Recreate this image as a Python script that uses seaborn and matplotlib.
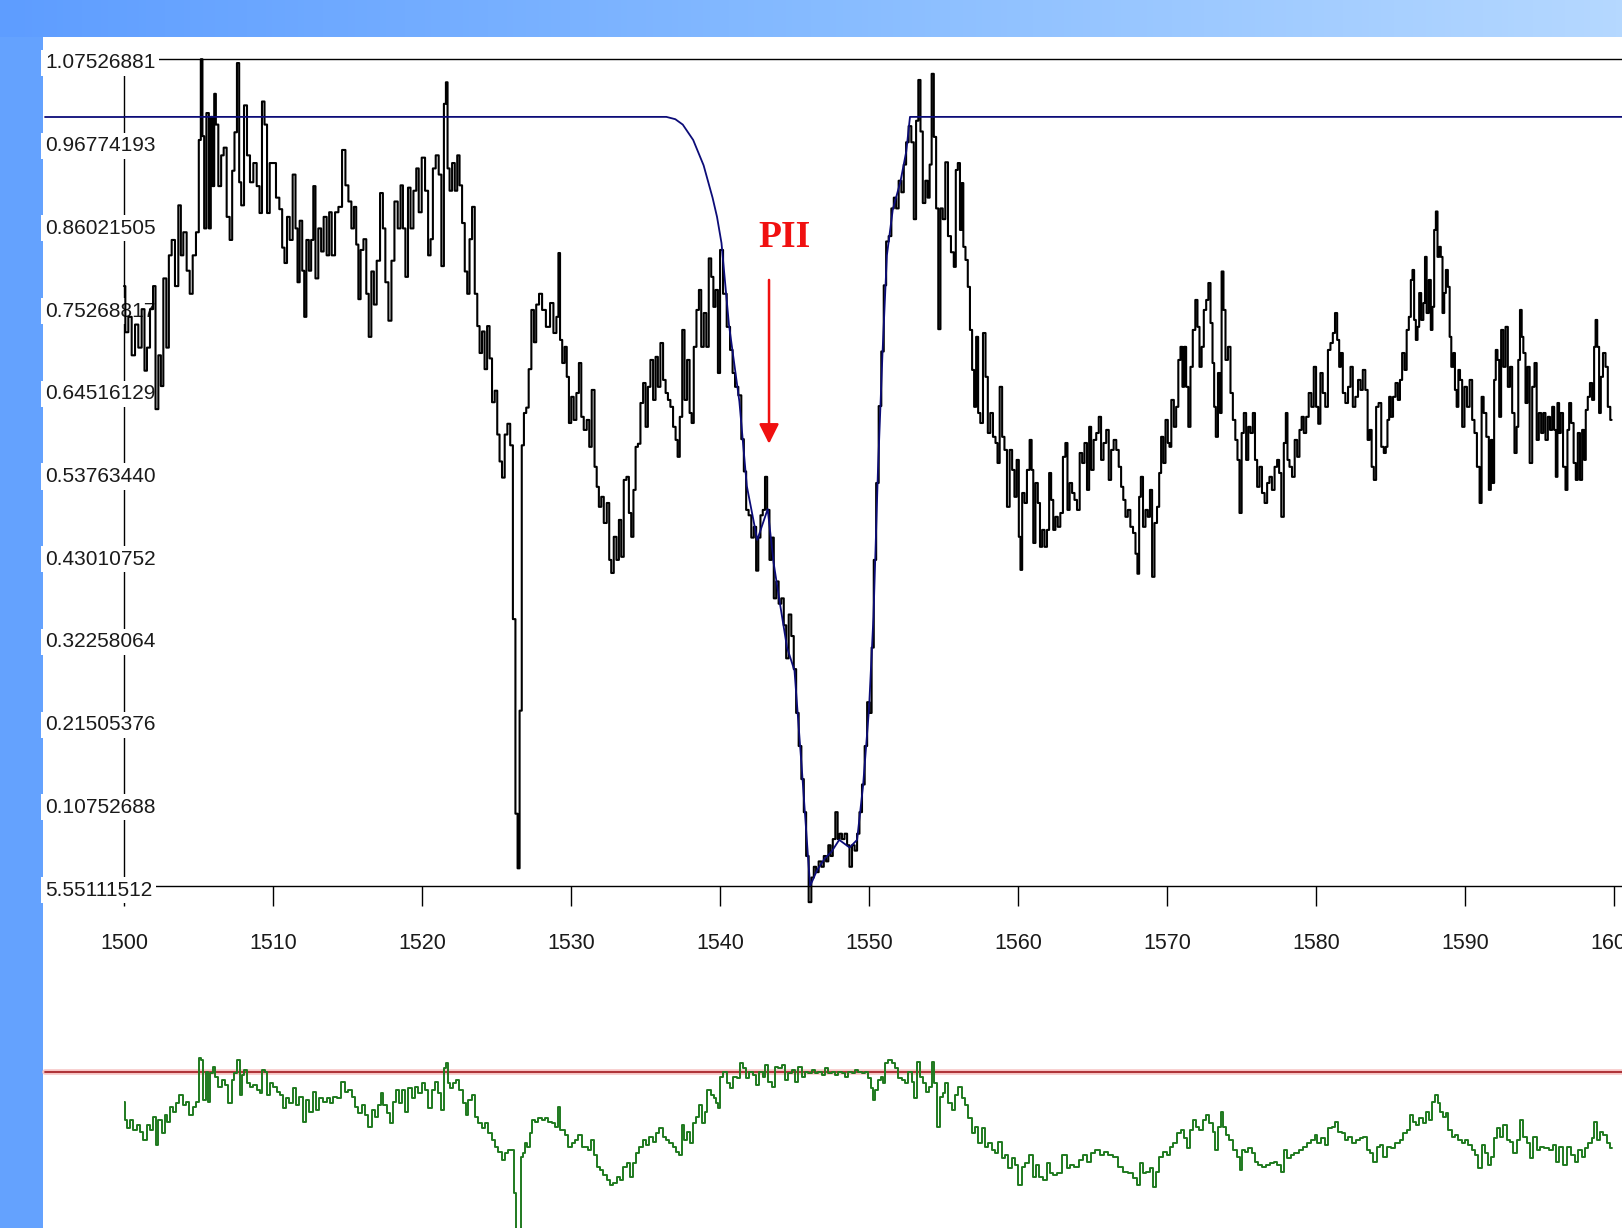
import numpy as np
import pandas as pd
import matplotlib
matplotlib.use("Agg")
import matplotlib.pyplot as plt
from matplotlib.patches import Rectangle
from matplotlib.colors import LinearSegmentedColormap
from matplotlib.transforms import ScaledTranslation
import seaborn as sns

# ---------------- data (wavelength, normalised flux) ----------------
flux_1500_1514 = [(1500.0,0.78),(1500.18,0.72),(1500.40,0.74),(1500.63,0.69),(1500.85,0.73),(1501.07,0.70),(1501.30,0.75),(1501.45,0.67),(1501.63,0.70),(1501.86,0.75),(1502.04,0.78),(1502.19,0.62),(1502.42,0.69),(1502.53,0.65),(1502.75,0.79),(1502.93,0.70),(1503.09,0.82),(1503.31,0.84),(1503.53,0.78),(1503.76,0.885),(1503.87,0.82),(1504.09,0.85),(1504.32,0.80),(1504.50,0.77),(1504.72,0.82),(1504.94,0.85),(1505.10,0.97),(1505.21,1.075),(1505.32,0.975),(1505.44,0.855),(1505.62,1.005),(1505.77,0.855),(1505.88,1.0),(1506.0,0.91),(1506.11,1.03),(1506.22,0.99),(1506.44,0.91),(1506.60,0.95),(1506.78,0.96),(1507.0,0.87),(1507.18,0.84),(1507.34,0.93),(1507.49,0.98),(1507.67,1.07),(1507.79,0.915),(1507.94,0.885),(1508.17,1.015),(1508.34,0.95),(1508.57,0.915),(1508.79,0.94),(1509.02,0.91),(1509.17,0.875),(1509.35,1.02),(1509.51,0.99),(1509.69,0.875),(1509.87,0.94),(1510.09,0.94),(1510.31,0.895),(1510.54,0.88),(1510.69,0.83),(1510.85,0.81),(1511.03,0.87),(1511.21,0.84),(1511.43,0.925),(1511.59,0.855),(1511.70,0.785),(1511.88,0.865),(1512.04,0.80),(1512.15,0.74),(1512.33,0.84),(1512.48,0.80),(1512.64,0.84),(1512.77,0.91),(1512.93,0.79),(1513.15,0.855),(1513.31,0.825),(1513.49,0.87),(1513.71,0.82)]
flux_1514_1528 = [(1513.83,0.876),(1514.05,0.820),(1514.28,0.876),(1514.5,0.883),(1514.77,0.957),(1514.95,0.911),(1515.17,0.890),(1515.35,0.855),(1515.51,0.883),(1515.66,0.834),(1515.8,0.763),(1515.96,0.827),(1516.18,0.841),(1516.34,0.770),(1516.51,0.714),(1516.69,0.799),(1516.85,0.756),(1517.07,0.813),(1517.3,0.901),(1517.45,0.855),(1517.63,0.785),(1517.86,0.735),(1518.04,0.813),(1518.26,0.890),(1518.48,0.855),(1518.64,0.911),(1518.8,0.855),(1518.97,0.792),(1519.15,0.908),(1519.31,0.855),(1519.54,0.904),(1519.69,0.933),(1519.87,0.876),(1520.09,0.947),(1520.32,0.904),(1520.5,0.820),(1520.65,0.841),(1520.81,0.933),(1521.03,0.950),(1521.21,0.925),(1521.39,0.806),(1521.55,1.017),(1521.66,1.045),(1521.77,0.933),(1521.93,0.904),(1522.11,0.940),(1522.29,0.904),(1522.44,0.950),(1522.6,0.911),(1522.78,0.862),(1522.96,0.799),(1523.11,0.770),(1523.27,0.841),(1523.45,0.883),(1523.63,0.770),(1523.79,0.728),(1523.94,0.693),(1524.12,0.721),(1524.28,0.672),(1524.46,0.728),(1524.61,0.686),(1524.79,0.629),(1524.97,0.644),(1525.13,0.587),(1525.28,0.552),(1525.46,0.531),(1525.64,0.587),(1525.82,0.601),(1526.02,0.573),(1526.18,0.347),(1526.36,0.094),(1526.47,0.023),(1526.63,0.228),(1526.76,0.573),(1526.92,0.615),(1527.07,0.622),(1527.25,0.672),(1527.43,0.749),(1527.59,0.707),(1527.74,0.756),(1527.97,0.770),(1528.15,0.749)]
flux_1528_1541 = [(1528.48,0.727),(1528.71,0.758),(1528.93,0.719),(1529.11,0.740),(1529.2,0.823),(1529.33,0.710),(1529.49,0.680),(1529.65,0.701),(1529.78,0.662),(1529.94,0.602),(1530.09,0.636),(1530.27,0.606),(1530.45,0.641),(1530.61,0.680),(1530.77,0.610),(1530.94,0.593),(1531.17,0.606),(1531.28,0.571),(1531.5,0.645),(1531.66,0.545),(1531.79,0.519),(1531.95,0.493),(1532.11,0.506),(1532.29,0.472),(1532.51,0.498),(1532.62,0.424),(1532.78,0.407),(1532.96,0.454),(1533.14,0.424),(1533.29,0.476),(1533.45,0.428),(1533.63,0.528),(1533.81,0.532),(1533.96,0.485),(1534.12,0.454),(1534.26,0.515),(1534.41,0.571),(1534.57,0.575),(1534.75,0.628),(1534.93,0.654),(1535.08,0.597),(1535.24,0.649),(1535.42,0.684),(1535.6,0.632),(1535.75,0.688),(1535.91,0.649),(1536.09,0.706),(1536.27,0.658),(1536.43,0.641),(1536.58,0.632),(1536.76,0.623),(1536.94,0.597),(1537.1,0.580),(1537.21,0.558),(1537.39,0.610),(1537.54,0.723),(1537.7,0.632),(1537.88,0.684),(1538.04,0.615),(1538.15,0.602),(1538.33,0.701),(1538.51,0.749),(1538.66,0.775),(1538.82,0.701),(1539.0,0.745),(1539.16,0.701),(1539.33,0.816),(1539.49,0.792),(1539.62,0.753),(1539.78,0.775),(1539.94,0.667),(1540.07,0.827),(1540.34,0.77),(1540.56,0.727),(1540.79,0.697),(1540.9,0.667),(1541.12,0.649)]
flux_1541_1556 = [(1541.34,0.638),(1541.52,0.581),(1541.68,0.539),(1541.83,0.489),(1542.01,0.482),(1542.19,0.453),(1542.35,0.467),(1542.50,0.410),(1542.64,0.453),(1542.79,0.482),(1542.95,0.489),(1543.09,0.532),(1543.24,0.489),(1543.40,0.424),(1543.53,0.453),(1543.69,0.374),(1543.85,0.396),(1544.02,0.367),(1544.2,0.374),(1544.36,0.339),(1544.52,0.296),(1544.70,0.353),(1544.87,0.325),(1545.03,0.282),(1545.19,0.225),(1545.37,0.182),(1545.55,0.139),(1545.70,0.096),(1545.86,0.039),(1546.04,-0.021),(1546.22,0.011),(1546.37,0.025),(1546.53,0.018),(1546.71,0.032),(1546.89,0.025),(1547.04,0.039),(1547.20,0.032),(1547.34,0.053),(1547.49,0.039),(1547.65,0.061),(1547.83,0.096),(1547.96,0.061),(1548.10,0.068),(1548.27,0.061),(1548.45,0.068),(1548.61,0.053),(1548.77,0.025),(1548.95,0.053),(1549.12,0.046),(1549.28,0.068),(1549.44,0.096),(1549.62,0.132),(1549.80,0.182),(1549.95,0.239),(1550.11,0.225),(1550.24,0.310),(1550.40,0.424),(1550.56,0.524),(1550.74,0.624),(1550.91,0.695),(1551.07,0.781),(1551.23,0.838),(1551.41,0.845),(1551.59,0.881),(1551.74,0.895),(1551.9,0.881),(1552.08,0.917),(1552.26,0.902),(1552.41,0.938),(1552.57,0.967),(1552.75,0.988),(1552.93,0.967),(1553.08,0.867),(1553.24,0.995),(1553.38,1.048),(1553.53,0.981),(1553.69,0.888),(1553.87,0.917),(1554.0,0.895),(1554.14,0.938),(1554.27,1.056),(1554.43,0.974),(1554.58,0.881),(1554.72,0.724),(1554.87,0.881),(1555.03,0.867),(1555.21,0.941),(1555.39,0.845),(1555.61,0.824)]
flux_1556_1570 = [(1555.77,0.805),(1555.88,0.931),(1556.04,0.940),(1556.17,0.853),(1556.26,0.914),(1556.4,0.831),(1556.55,0.814),(1556.71,0.779),(1556.84,0.723),(1557.0,0.671),(1557.11,0.623),(1557.27,0.714),(1557.38,0.615),(1557.56,0.602),(1557.74,0.719),(1557.90,0.662),(1558.05,0.589),(1558.23,0.615),(1558.41,0.584),(1558.57,0.576),(1558.68,0.550),(1558.86,0.649),(1559.01,0.584),(1559.17,0.567),(1559.35,0.493),(1559.53,0.567),(1559.68,0.541),(1559.84,0.506),(1559.98,0.554),(1560.13,0.454),(1560.2,0.411),(1560.36,0.511),(1560.51,0.498),(1560.69,0.541),(1560.87,0.580),(1560.96,0.541),(1561.09,0.446),(1561.25,0.524),(1561.41,0.498),(1561.54,0.441),(1561.7,0.463),(1561.86,0.441),(1562.03,0.463),(1562.15,0.537),(1562.3,0.502),(1562.43,0.463),(1562.59,0.480),(1562.75,0.467),(1562.93,0.485),(1563.1,0.558),(1563.26,0.576),(1563.38,0.489),(1563.55,0.524),(1563.71,0.511),(1563.87,0.502),(1564.05,0.489),(1564.23,0.563),(1564.38,0.550),(1564.54,0.576),(1564.72,0.515),(1564.83,0.597),(1564.99,0.541),(1565.16,0.580),(1565.34,0.589),(1565.5,0.610),(1565.65,0.554),(1565.83,0.576),(1566.01,0.593),(1566.17,0.528),(1566.33,0.567),(1566.51,0.580),(1566.68,0.567),(1566.84,0.545),(1567.0,0.519),(1567.13,0.502),(1567.29,0.480),(1567.45,0.489),(1567.63,0.467),(1567.81,0.459),(1567.96,0.432),(1568.07,0.406),(1568.19,0.506),(1568.30,0.532),(1568.48,0.467),(1568.63,0.489),(1568.79,0.480),(1568.92,0.515),(1569.08,0.402),(1569.24,0.472),(1569.42,0.493),(1569.53,0.537),(1569.68,0.584),(1569.82,0.550),(1569.98,0.606),(1570.13,0.576)]
flux_1570_1585 = [(1570.2,0.571),(1570.38,0.632),(1570.54,0.597),(1570.69,0.623),(1570.83,0.684),(1570.98,0.701),(1571.09,0.649),(1571.21,0.701),(1571.36,0.649),(1571.5,0.597),(1571.65,0.675),(1571.81,0.723),(1571.99,0.762),(1572.1,0.727),(1572.26,0.675),(1572.39,0.701),(1572.55,0.749),(1572.71,0.762),(1572.84,0.784),(1573.0,0.732),(1573.11,0.680),(1573.22,0.623),(1573.33,0.584),(1573.51,0.667),(1573.6,0.615),(1573.73,0.799),(1573.85,0.749),(1574.0,0.684),(1574.18,0.701),(1574.34,0.641),(1574.5,0.606),(1574.67,0.580),(1574.79,0.554),(1574.94,0.485),(1575.08,0.589),(1575.23,0.615),(1575.39,0.554),(1575.52,0.597),(1575.68,0.589),(1575.84,0.615),(1575.97,0.554),(1576.13,0.519),(1576.29,0.545),(1576.46,0.511),(1576.64,0.498),(1576.8,0.524),(1576.95,0.532),(1577.13,0.515),(1577.31,0.545),(1577.47,0.554),(1577.58,0.537),(1577.76,0.480),(1577.92,0.576),(1578.03,0.615),(1578.14,0.554),(1578.3,0.545),(1578.48,0.532),(1578.66,0.580),(1578.81,0.558),(1578.97,0.593),(1579.1,0.610),(1579.26,0.589),(1579.42,0.610),(1579.6,0.641),(1579.77,0.623),(1579.93,0.675),(1580.08,0.623),(1580.22,0.601),(1580.37,0.667),(1580.53,0.641),(1580.71,0.623),(1580.89,0.697),(1581.05,0.706),(1581.21,0.719),(1581.34,0.745),(1581.5,0.710),(1581.61,0.675),(1581.72,0.693),(1581.88,0.641),(1582.06,0.628),(1582.24,0.649),(1582.39,0.675),(1582.55,0.623),(1582.73,0.636),(1582.91,0.658),(1583.06,0.645),(1583.22,0.671),(1583.4,0.645),(1583.53,0.580),(1583.67,0.593),(1583.8,0.545),(1583.96,0.528),(1584.11,0.623),(1584.29,0.628),(1584.47,0.571)]
flux_1585_1600 = [(1584.63,0.563),(1584.74,0.571),(1584.85,0.606),(1584.97,0.636),(1585.08,0.610),(1585.26,0.636),(1585.41,0.654),(1585.57,0.632),(1585.7,0.658),(1585.86,0.693),(1586.02,0.671),(1586.15,0.723),(1586.31,0.740),(1586.42,0.788),(1586.53,0.801),(1586.64,0.736),(1586.76,0.710),(1586.87,0.727),(1586.98,0.771),(1587.14,0.736),(1587.27,0.758),(1587.36,0.818),(1587.49,0.745),(1587.65,0.788),(1587.76,0.723),(1587.87,0.753),(1587.99,0.853),(1588.1,0.877),(1588.21,0.818),(1588.32,0.831),(1588.43,0.818),(1588.55,0.745),(1588.66,0.771),(1588.77,0.801),(1588.93,0.779),(1589.01,0.714),(1589.15,0.675),(1589.28,0.693),(1589.37,0.645),(1589.51,0.623),(1589.6,0.671),(1589.73,0.658),(1589.89,0.597),(1590.04,0.649),(1590.22,0.623),(1590.4,0.658),(1590.56,0.606),(1590.71,0.589),(1590.89,0.545),(1591.07,0.498),(1591.16,0.636),(1591.34,0.615),(1591.52,0.584),(1591.68,0.515),(1591.79,0.580),(1591.9,0.524),(1592.01,0.658),(1592.12,0.697),(1592.24,0.684),(1592.35,0.610),(1592.5,0.723),(1592.64,0.675),(1592.8,0.727),(1592.95,0.649),(1593.09,0.675),(1593.24,0.615),(1593.4,0.563),(1593.53,0.597),(1593.62,0.684),(1593.76,0.749),(1593.85,0.714),(1593.98,0.693),(1594.14,0.628),(1594.25,0.675),(1594.43,0.550),(1594.59,0.649),(1594.74,0.680),(1594.88,0.580),(1595.03,0.615),(1595.19,0.589),(1595.32,0.615),(1595.48,0.580),(1595.64,0.610),(1595.77,0.593),(1595.93,0.623),(1596.04,0.593),(1596.15,0.532),(1596.26,0.628),(1596.37,0.589),(1596.49,0.615),(1596.67,0.545),(1596.82,0.515),(1596.93,0.593),(1597.05,0.628),(1597.2,0.602),(1597.38,0.550),(1597.49,0.528),(1597.65,0.589),(1597.78,0.528),(1597.94,0.593),(1598.05,0.554),(1598.16,0.619),(1598.32,0.636),(1598.45,0.654),(1598.61,0.632),(1598.72,0.701),(1598.81,0.736),(1598.94,0.701),(1599.06,0.615),(1599.17,0.662),(1599.35,0.693),(1599.51,0.675),(1599.66,0.623),(1599.84,0.606)]

# fitted continuum / absorption profile (blue curve)
continuum = [(1500.0,1.0),(1536.4,1.0),(1537.0,0.997),(1537.5,0.99),(1538.2,0.97),(1538.9,0.937),(1539.5,0.895),(1539.8,0.87),(1540.1,0.836),(1540.6,0.73),(1541.3,0.63),(1541.8,0.52),(1542.5,0.45),(1543.2,0.49),(1543.6,0.42),(1544.0,0.37),(1544.5,0.31),(1545.0,0.28),(1545.5,0.15),(1545.9,0.04),(1546.05,0.0),(1546.5,0.02),(1547.0,0.035),(1547.5,0.045),(1548.0,0.06),(1548.7,0.05),(1549.2,0.06),(1549.6,0.13),(1550.0,0.23),(1550.3,0.35),(1550.6,0.54),(1550.9,0.69),(1551.2,0.82),(1551.6,0.88),(1552.1,0.915),(1552.5,0.955),(1552.75,1.0),(1600.53,1.0)]

# lower panel: log of flux / continuum
ratio_1500_1533 = [(1500.0,-0.243),(1500.07,-0.394),(1500.29,-0.462),(1500.51,-0.394),(1500.74,-0.476),(1500.96,-0.435),(1501.19,-0.489),(1501.41,-0.558),(1501.63,-0.435),(1501.86,-0.476),(1502.04,-0.366),(1502.19,-0.599),(1502.42,-0.394),(1502.64,-0.503),(1502.8,-0.353),(1502.98,-0.407),(1503.15,-0.284),(1503.38,-0.325),(1503.6,-0.257),(1503.83,-0.189),(1504.05,-0.271),(1504.27,-0.243),(1504.5,-0.353),(1504.72,-0.284),(1504.94,-0.243),(1505.1,0.112),(1505.26,0.098),(1505.39,-0.230),(1505.55,0.002),(1505.7,-0.243),(1505.88,-0.011),(1506.06,0.043),(1506.22,-0.039),(1506.44,-0.120),(1506.67,-0.066),(1506.89,-0.107),(1507.11,-0.257),(1507.34,-0.066),(1507.49,-0.011),(1507.67,0.098),(1507.85,-0.189),(1508.0,-0.025),(1508.17,0.016),(1508.34,-0.093),(1508.57,-0.120),(1508.79,-0.107),(1509.02,-0.148),(1509.19,-0.175),(1509.35,0.016),(1509.51,0.002),(1509.69,-0.189),(1509.91,-0.093),(1510.13,-0.120),(1510.36,-0.161),(1510.58,-0.189),(1510.76,-0.298),(1510.98,-0.216),(1511.21,-0.257),(1511.43,-0.134),(1511.66,-0.271),(1511.88,-0.202),(1512.1,-0.407),(1512.33,-0.230),(1512.55,-0.325),(1512.77,-0.161),(1513.0,-0.312),(1513.22,-0.216),(1513.49,-0.243),(1513.71,-0.216),(1513.94,-0.257),(1514.16,-0.202),(1514.38,-0.216),(1514.72,-0.080),(1514.94,-0.161),(1515.17,-0.148),(1515.39,-0.202),(1515.62,-0.284),(1515.84,-0.339),(1516.06,-0.271),(1516.29,-0.353),(1516.51,-0.448),(1516.74,-0.312),(1516.96,-0.366),(1517.18,-0.271),(1517.3,-0.175),(1517.52,-0.271),(1517.74,-0.339),(1517.92,-0.421),(1518.14,-0.243),(1518.37,-0.148),(1518.59,-0.257),(1518.75,-0.148),(1518.97,-0.325),(1519.2,-0.134),(1519.42,-0.216),(1519.64,-0.120),(1519.87,-0.175),(1520.09,-0.093),(1520.31,-0.148),(1520.54,-0.298),(1520.76,-0.148),(1520.98,-0.080),(1521.21,-0.175),(1521.37,-0.312),(1521.54,0.030),(1521.66,0.071),(1521.81,-0.093),(1521.99,-0.134),(1522.21,-0.093),(1522.39,-0.066),(1522.62,-0.148),(1522.84,-0.257),(1523.0,-0.353),(1523.22,-0.230),(1523.45,-0.189),(1523.67,-0.366),(1523.89,-0.421),(1524.12,-0.462),(1524.34,-0.421),(1524.57,-0.503),(1524.79,-0.558),(1525.01,-0.612),(1525.23,-0.653),(1525.46,-0.722),(1525.68,-0.667),(1525.91,-0.640),(1526.07,-0.640),(1526.24,-0.995),(1526.35,-1.9),(1526.47,-3.0),(1526.57,-1.9),(1526.69,-0.694),(1526.8,-0.667),(1526.96,-0.585),(1527.14,-0.612),(1527.32,-0.503),(1527.48,-0.394),(1527.7,-0.407),(1527.92,-0.380),(1528.15,-0.394),(1528.37,-0.380),(1528.59,-0.407),(1528.81,-0.421),(1529.04,-0.448),(1529.15,-0.284),(1529.33,-0.476),(1529.49,-0.476),(1529.71,-0.517),(1529.93,-0.612),(1530.16,-0.585),(1530.38,-0.558),(1530.6,-0.517),(1530.83,-0.612),(1531.05,-0.612),(1531.27,-0.640),(1531.43,-0.558),(1531.61,-0.681),(1531.83,-0.776),(1532.06,-0.804),(1532.28,-0.845),(1532.5,-0.886),(1532.73,-0.927)]
ratio_1533_1566 = [(1532.95,-0.913),(1533.17,-0.858),(1533.4,-0.886),(1533.62,-0.776),(1533.84,-0.749),(1534.02,-0.858),(1534.25,-0.749),(1534.47,-0.667),(1534.7,-0.612),(1534.92,-0.558),(1535.14,-0.599),(1535.37,-0.530),(1535.59,-0.571),(1535.81,-0.503),(1536.04,-0.462),(1536.26,-0.530),(1536.48,-0.558),(1536.71,-0.585),(1536.93,-0.612),(1537.16,-0.653),(1537.31,-0.681),(1537.54,-0.435),(1537.69,-0.558),(1537.87,-0.489),(1538.05,-0.585),(1538.27,-0.421),(1538.5,-0.366),(1538.72,-0.271),(1538.88,-0.421),(1539.04,-0.325),(1539.26,-0.148),(1539.48,-0.189),(1539.66,-0.216),(1539.77,-0.257),(1539.93,-0.298),(1540.11,-0.039),(1540.33,0.002),(1540.56,-0.093),(1540.78,-0.134),(1541.0,-0.039),(1541.23,-0.052),(1541.41,0.071),(1541.63,0.030),(1541.85,-0.052),(1542.08,0.002),(1542.3,-0.025),(1542.53,-0.107),(1542.75,0.002),(1542.97,-0.039),(1543.13,0.057),(1543.35,-0.080),(1543.58,-0.120),(1543.8,0.043),(1544.02,0.030),(1544.25,0.057),(1544.47,-0.066),(1544.7,-0.011),(1544.92,0.016),(1545.14,-0.080),(1545.37,0.043),(1545.59,-0.039),(1545.81,0.002),(1546.04,-0.011),(1546.26,0.016),(1546.48,-0.011),(1546.71,0.002),(1546.93,-0.025),(1547.16,0.030),(1547.38,-0.011),(1547.6,0.002),(1547.83,-0.025),(1548.05,0.002),(1548.27,-0.011),(1548.5,-0.039),(1548.72,0.002),(1548.95,-0.011),(1549.17,0.016),(1549.39,0.002),(1549.62,-0.011),(1549.84,0.002),(1550.06,-0.052),(1550.22,-0.134),(1550.35,-0.230),(1550.51,-0.148),(1550.74,-0.066),(1550.89,-0.039),(1551.03,-0.093),(1551.18,0.071),(1551.41,0.098),(1551.63,0.071),(1551.85,0.030),(1552.08,-0.052),(1552.3,-0.066),(1552.53,-0.093),(1552.75,0.002),(1552.97,-0.080),(1553.13,-0.216),(1553.31,0.084),(1553.49,-0.039),(1553.71,-0.093),(1553.93,-0.161),(1554.09,-0.120),(1554.32,0.084),(1554.47,-0.093),(1554.65,-0.448),(1554.83,-0.202),(1555.05,-0.175),(1555.21,-0.093),(1555.43,-0.257),(1555.66,-0.312),(1555.88,-0.189),(1556.1,-0.120),(1556.33,-0.216),(1556.55,-0.271),(1556.78,-0.380),(1557.0,-0.503),(1557.22,-0.448),(1557.45,-0.585),(1557.67,-0.462),(1557.89,-0.612),(1558.12,-0.585),(1558.34,-0.640),(1558.57,-0.667),(1558.79,-0.571),(1559.01,-0.708),(1559.24,-0.681),(1559.46,-0.790),(1559.68,-0.708),(1559.91,-0.763),(1560.13,-0.927),(1560.35,-0.776),(1560.58,-0.749),(1560.87,-0.681),(1561.09,-0.858),(1561.32,-0.763),(1561.54,-0.858),(1561.81,-0.886),(1562.03,-0.749),(1562.26,-0.831),(1562.48,-0.845),(1562.82,-0.831),(1563.15,-0.681),(1563.38,-0.790),(1563.64,-0.763),(1563.93,-0.776),(1564.22,-0.722),(1564.49,-0.681),(1564.76,-0.735),(1565.05,-0.667),(1565.34,-0.640),(1565.61,-0.681),(1565.88,-0.653)]
ratio_1566_1600 = [(1566.18,-0.681),(1566.51,-0.694),(1566.85,-0.776),(1567.18,-0.817),(1567.52,-0.831),(1567.85,-0.872),(1568.08,-0.927),(1568.26,-0.749),(1568.48,-0.831),(1568.75,-0.817),(1568.97,-0.790),(1569.15,-0.940),(1569.38,-0.817),(1569.6,-0.694),(1569.87,-0.653),(1570.09,-0.681),(1570.32,-0.612),(1570.54,-0.585),(1570.81,-0.503),(1571.03,-0.476),(1571.26,-0.544),(1571.43,-0.626),(1571.66,-0.476),(1571.88,-0.394),(1572.06,-0.448),(1572.28,-0.476),(1572.51,-0.394),(1572.73,-0.353),(1572.95,-0.421),(1573.18,-0.489),(1573.33,-0.640),(1573.56,-0.448),(1573.71,-0.325),(1573.85,-0.448),(1574.07,-0.517),(1574.3,-0.558),(1574.56,-0.640),(1574.79,-0.694),(1574.97,-0.804),(1575.12,-0.640),(1575.35,-0.653),(1575.57,-0.626),(1575.8,-0.667),(1576.02,-0.735),(1576.24,-0.763),(1576.53,-0.776),(1576.8,-0.763),(1577.07,-0.749),(1577.3,-0.735),(1577.52,-0.763),(1577.74,-0.817),(1577.97,-0.640),(1578.19,-0.708),(1578.41,-0.681),(1578.7,-0.667),(1578.99,-0.640),(1579.26,-0.612),(1579.53,-0.585),(1579.82,-0.558),(1579.98,-0.517),(1580.2,-0.585),(1580.49,-0.544),(1580.72,-0.599),(1580.94,-0.462),(1581.16,-0.448),(1581.39,-0.407),(1581.61,-0.489),(1581.84,-0.503),(1582.06,-0.558),(1582.28,-0.530),(1582.51,-0.585),(1582.8,-0.558),(1583.07,-0.544),(1583.29,-0.530),(1583.51,-0.640),(1583.74,-0.667),(1583.96,-0.735),(1584.18,-0.612),(1584.41,-0.599),(1584.63,-0.694),(1584.9,-0.612),(1585.19,-0.626),(1585.48,-0.585),(1585.75,-0.558),(1585.97,-0.503),(1586.2,-0.476),(1586.42,-0.353),(1586.6,-0.407),(1586.82,-0.435),(1587.05,-0.380),(1587.27,-0.421),(1587.5,-0.325),(1587.72,-0.394),(1587.88,-0.243),(1588.1,-0.189),(1588.26,-0.257),(1588.44,-0.325),(1588.62,-0.366),(1588.77,-0.339),(1589.0,-0.476),(1589.22,-0.530),(1589.44,-0.517),(1589.67,-0.558),(1589.89,-0.585),(1590.11,-0.558),(1590.34,-0.599),(1590.56,-0.640),(1590.79,-0.681),(1591.01,-0.790),(1591.23,-0.599),(1591.46,-0.667),(1591.68,-0.763),(1591.84,-0.694),(1592.01,-0.544),(1592.24,-0.462),(1592.46,-0.530),(1592.69,-0.435),(1592.91,-0.558),(1593.13,-0.571),(1593.36,-0.667),(1593.58,-0.558),(1593.8,-0.394),(1594.03,-0.530),(1594.25,-0.585),(1594.47,-0.708),(1594.7,-0.530),(1594.92,-0.640),(1595.19,-0.612),(1595.48,-0.626),(1595.77,-0.640),(1596.04,-0.599),(1596.22,-0.735),(1596.44,-0.612),(1596.71,-0.763),(1596.98,-0.612),(1597.27,-0.681),(1597.49,-0.735),(1597.72,-0.640),(1597.94,-0.694),(1598.16,-0.626),(1598.39,-0.585),(1598.61,-0.544),(1598.77,-0.407),(1598.95,-0.558),(1599.17,-0.489),(1599.39,-0.517),(1599.62,-0.585),(1599.84,-0.626)]

x_ticks = [1500, 1510, 1520, 1530, 1540, 1550, 1560, 1570, 1580, 1590, 1600]
y_tick_values = [0.0, 0.10752688, 0.21505376, 0.32258064, 0.43010752, 0.53763440,
                 0.64516129, 0.75268817, 0.86021505, 0.96774193, 1.07526881]
y_tick_labels = ["5.55111512", "0.10752688", "0.21505376", "0.32258064", "0.43010752",
                 "0.53763440", "0.64516129", "0.75268817", "0.86021505", "0.96774193",
                 "1.07526881"]
annot_text = "PII"
annot_pos = (1544.3, 0.843)
arrow_x = 1543.29
arrow_from, arrow_to = 0.788, 0.575

# ---------------- build frames ----------------
def frame(*segs, cols=("wl", "v")):
    rows = [p for s in segs for p in s]
    return pd.DataFrame(rows, columns=list(cols))

df_flux = frame(flux_1500_1514, flux_1514_1528, flux_1528_1541, flux_1541_1556,
                flux_1556_1570, flux_1570_1585, flux_1585_1600)
df_cont = frame(continuum)
df_ratio = frame(ratio_1500_1533, ratio_1533_1566, ratio_1566_1600)

# ---------------- figure ----------------
sns.set_style("white")
plt.rcParams['font.family'] = ['Liberation Sans', 'DejaVu Sans']

W, H = 1622, 1228
fig = plt.figure(figsize=(W / 100, H / 100), dpi=100)
fig.patch.set_facecolor("white")

# header gradient band and left strip
band = fig.add_axes([0, 1 - 37 / H, 1, 37 / H])
cmap = LinearSegmentedColormap.from_list("band", ["#5e9dff", "#86bbff", "#b5d8ff"])
band.imshow(np.linspace(0, 1, 512).reshape(1, -1), aspect="auto", cmap=cmap,
            extent=[0, 1, 0, 1])
band.axis("off")
fig.add_artist(Rectangle((0, 0), 43 / W, 1 - 37 / H, transform=fig.transFigure,
                         facecolor="#64a2fe", edgecolor="none", zorder=0))

# main spectrum axes
PX_PER_UNIT = 14.9
XMIN = 1500.0
XMAX = XMIN + (W - 124) / PX_PER_UNIT
YMAX = 1.07526881
ax = fig.add_axes([124 / W, 1 - 886 / H, (W - 124) / W, (886 - 59) / H])
ax.set_facecolor("none")

sns.lineplot(data=df_flux, x="wl", y="v", ax=ax, color="black", lw=1.5,
             drawstyle="steps-mid", estimator=None, sort=False, legend=False,
             zorder=4, clip_on=False)
sns.lineplot(data=df_cont, x="wl", y="v", ax=ax, color="#0c0c78", lw=1.3,
             estimator=None, sort=False, legend=False, zorder=5)
ax.axhline(1.0, xmin=-79 / (W - 124), xmax=0, color="#0c0c78", lw=1.3, clip_on=False)

ax.set_xlim(XMIN, XMAX)
ax.set_ylim(0, YMAX)
ax.set_xlabel("")
ax.set_ylabel("")
ax.set_xticks(x_ticks)
ax.set_xticklabels([str(t) for t in x_ticks], fontsize=15.5, color="#1a1a1a")
ax.tick_params(axis="x", direction="out", length=14.5, width=1.0, color="black",
               pad=19, bottom=True)
ax.set_yticks([])
for side in ("left", "bottom", "top"):
    ax.spines[side].set_visible(True)
    ax.spines[side].set_color("black")
    ax.spines[side].set_linewidth(1.0)
ax.spines["right"].set_visible(False)

label_shift = ScaledTranslation(0, -4 / 100, fig.dpi_scale_trans)
for val, lab in zip(y_tick_values, y_tick_labels):
    ax.text(-79 / (W - 124), val, lab, transform=ax.get_yaxis_transform() + label_shift,
            ha="left", va="center", fontsize=15, color="#1a1a1a", zorder=3,
            bbox=dict(facecolor="white", edgecolor="none", pad=2.5))

ax.text(annot_pos[0], annot_pos[1], annot_text, color="#f01010", fontsize=27,
        fontweight="bold", family=["Liberation Serif", "DejaVu Serif"],
        ha="center", va="center", zorder=6)
ax.annotate("", xy=(arrow_x, arrow_to), xytext=(arrow_x, arrow_from),
            arrowprops=dict(arrowstyle="-|>,head_length=0.6,head_width=0.3",
                            color="#f01010", lw=1.8, mutation_scale=20,
                            shrinkA=0, shrinkB=0), zorder=6)

# lower ratio panel
K = 122.0
ax2 = fig.add_axes([124 / W, 0, (W - 124) / W, 228 / H])
ax2.set_facecolor("none")
ax2.axhline(0, xmin=-79 / (W - 124), xmax=1, color="#f7c4c4", lw=4, clip_on=False, zorder=1)
ax2.axhline(0, xmin=-79 / (W - 124), xmax=1, color="#a8262c", lw=1.3, clip_on=False, zorder=2)
sns.lineplot(data=df_ratio, x="wl", y="v", ax=ax2, color="#1f7a1f", lw=1.4,
             drawstyle="steps-mid", estimator=None, sort=False, legend=False, zorder=3)
ax2.set_xlim(XMIN, XMAX)
ax2.set_ylim(-(1228 - 1072) / K, (1072 - 1000) / K)
ax2.axis("off")

fig.savefig("out.png", dpi=100)
